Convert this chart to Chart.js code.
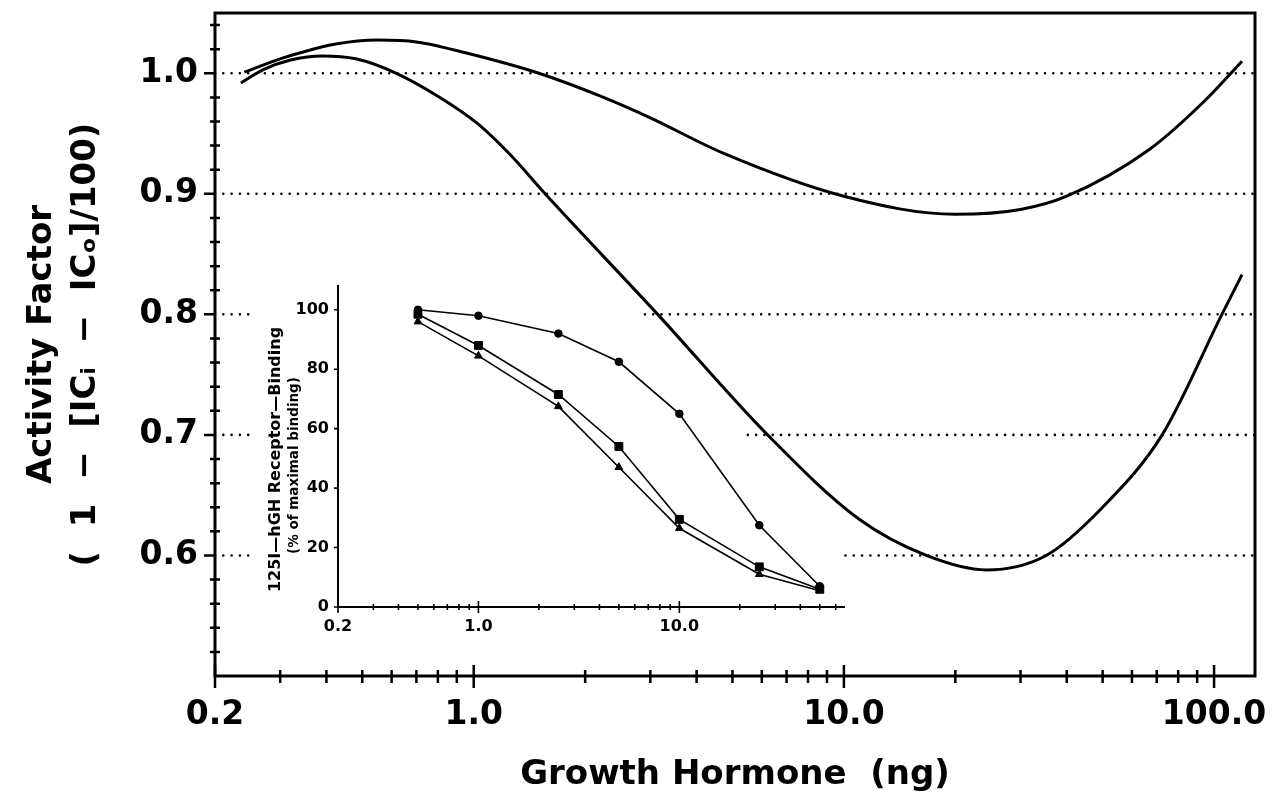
<!DOCTYPE html>
<html>
<head>
<meta charset="utf-8">
<title>Activity factor vs growth hormone</title>
<script src="https://cdn.jsdelivr.net/npm/chart.js@4.4.1/dist/chart.umd.min.js"></script>
<style>
  body { margin: 0; background: #fff; }
  #wrap { position: relative; width: 1279px; height: 804px; background: #fff; }
  #main { position: absolute; left: 0; top: 0; }
  #inset { position: absolute; left: 250px; top: 270px; }
</style>
</head>
<body>
<div id="wrap">
  <canvas id="main" width="1279" height="804"></canvas>
  <canvas id="inset" width="620" height="380"></canvas>
</div>
<script>
// main plot: activity factor curves
const upperDose = [0.24, 0.3, 0.34, 0.42, 0.55, 0.7, 0.95, 1.5, 2.2, 3, 4.7, 10, 20, 30, 40, 67, 95, 119];
const upperFactor = [1.001, 1.012, 1.017, 1.024, 1.0275, 1.026, 1.017, 1.0, 0.981, 0.963, 0.934, 0.898, 0.883, 0.887, 0.898, 0.937, 0.978, 1.010];
const lowerDose = [0.235, 0.27, 0.32, 0.39, 0.48, 0.618, 0.8, 1.017, 1.25, 1.57, 3.14, 6.22, 11, 16.7, 24.2, 35.2, 50, 72.4, 105, 119];
const lowerFactor = [0.992, 1.003, 1.011, 1.0144, 1.012, 1.0, 0.981, 0.959, 0.933, 0.899, 0.8, 0.70, 0.630, 0.600, 0.588, 0.600, 0.640, 0.70, 0.80, 0.833];

// dotted reference lines (some are broken where the inset sits)
const gridLevels = [1.0, 0.9, 0.8, 0.7, 0.6];
const gridStubEnd = [null, null, 0.25, 0.25, 0.25];
const gridResume = [0.2, 0.2, 2.9, 5.5, 10.1];

const xTicks = [0.2, 0.3, 0.4, 0.5, 0.6, 0.7, 0.8, 0.9, 1, 2, 3, 4, 5, 6, 7, 8, 9, 10, 20, 30, 40, 50, 60, 70, 80, 90, 100];
const xMajor = [0.2, 1, 10, 100];
const xMajorLabels = ['0.2', '1.0', '10.0', '100.0'];
const yTicks = [0.52, 0.54, 0.56, 0.58, 0.6, 0.62, 0.64, 0.66, 0.68, 0.7, 0.72, 0.74, 0.76, 0.78, 0.8, 0.82, 0.84, 0.86, 0.88, 0.9, 0.92, 0.94, 0.96, 0.98, 1.0, 1.02, 1.04];
const yMajor = [0.6, 0.7, 0.8, 0.9, 1.0];

// inset: receptor binding
const insetDose = [0.5, 1, 2.5, 5, 10, 25, 50];
const circleBinding = [100, 98, 92, 82.5, 65, 27.5, 7];
const squareBinding = [98.5, 88, 71.5, 54, 29.5, 13.5, 6];
const triangleBinding = [96, 84.5, 67.5, 47, 26.5, 11, 5.5];
const insetXTicks = [0.2, 0.3, 0.4, 0.5, 0.6, 0.7, 0.8, 0.9, 1, 2, 3, 4, 5, 6, 7, 8, 9, 10, 20, 30, 40, 50, 60];
const insetXMajor = [0.2, 1, 10];
const insetXLabels = ['0.2', '1.0', '10.0'];
const insetYTicks = [0, 20, 40, 60, 80, 100];
const insetTitleLines = ['125I\u2014hGH Receptor\u2014Binding', '(% of maximal binding)'];

Chart.defaults.font.family = "'DejaVu Sans'";
Chart.defaults.color = '#000';

const pts = (xs, ys) => xs.map((x, i) => ({x: x, y: ys[i]}));

// axis lines and ticks that cross the axis
const axisMarks = {
  id: 'axisMarks',
  afterDatasetsDraw(chart, args, o) {
    const {ctx, chartArea: a, scales: {x, y}} = chart;
    ctx.save();
    ctx.strokeStyle = '#000';
    ctx.lineWidth = o.axisWidth;
    ctx.lineCap = 'square';
    ctx.beginPath();
    if (o.box) {
      ctx.moveTo(a.left, a.top); ctx.lineTo(a.right, a.top); ctx.lineTo(a.right, a.bottom);
    }
    ctx.moveTo(a.left, a.top); ctx.lineTo(a.left, a.bottom); ctx.lineTo(a.right, a.bottom);
    ctx.stroke();
    ctx.lineCap = 'butt';
    ctx.lineWidth = o.tickWidth;
    ctx.beginPath();
    for (const v of o.xValues) {
      const px = x.getPixelForValue(v);
      const len = o.xMajor.includes(v) ? o.xMajorLen : o.xMinorLen;
      ctx.moveTo(px, a.bottom - len[0]);
      ctx.lineTo(px, a.bottom + len[1]);
    }
    for (const v of o.yValues) {
      const py = y.getPixelForValue(v);
      const len = o.yMajor.includes(v) ? o.yMajorLen : o.yMinorLen;
      ctx.moveTo(a.left - len[0], py);
      ctx.lineTo(a.left + len[1], py);
    }
    ctx.stroke();
    ctx.restore();
  }
};

// rotated two-font title for the inset y axis
const insetTitle = {
  id: 'insetTitle',
  afterDraw(chart, args, o) {
    if (!o.lines) return;
    const {ctx, chartArea: a} = chart;
    const cy = (a.top + a.bottom) / 2;
    ctx.save();
    ctx.fillStyle = '#000';
    ctx.textAlign = 'center';
    ctx.textBaseline = 'middle';
    o.lines.forEach((line, i) => {
      ctx.save();
      ctx.translate(a.left - o.offsets[i], cy + o.shift[i]);
      ctx.rotate(-Math.PI / 2);
      ctx.font = 'bold ' + o.sizes[i] + "px 'DejaVu Sans'";
      ctx.fillText(line, 0, 0);
      ctx.restore();
    });
    ctx.restore();
  }
};

const gridSets = gridLevels.map((lv, i) => {
  const data = [];
  if (gridStubEnd[i] !== null) {
    data.push({x: 0.2, y: lv}, {x: gridStubEnd[i], y: lv}, {x: (gridStubEnd[i] + gridResume[i]) / 2, y: null});
  }
  data.push({x: gridResume[i], y: lv}, {x: 129, y: lv});
  return {
    data: data,
    borderColor: '#000',
    borderWidth: 2.6,
    borderDash: [0, 8.3],
    borderCapStyle: 'round',
    pointRadius: 0,
    spanGaps: false,
    order: 5
  };
});

const curve = (xs, ys) => ({
  data: pts(xs, ys),
  borderColor: '#000',
  borderWidth: 3,
  pointRadius: 0,
  cubicInterpolationMode: 'monotone',
  borderJoinStyle: 'round',
  order: 1
});

// keep the plot box where the original has it
const fixX = h => s => { s.height = h; s.paddingLeft = 0; s.paddingRight = 0; };
const fixY = w => s => { s.width = w; s.paddingTop = 0; s.paddingBottom = 0; };

new Chart(document.getElementById('main'), {
  type: 'line',
  data: {
    datasets: [...gridSets, curve(upperDose, upperFactor), curve(lowerDose, lowerFactor)]
  },
  options: {
    responsive: false,
    animation: false,
    layout: {padding: {left: 0, top: 13, right: 24, bottom: 0}},
    plugins: {
      legend: {display: false},
      tooltip: {enabled: false},
      axisMarks: {
        box: true, axisWidth: 3, tickWidth: 2.5,
        xValues: xTicks, xMajor: xMajor, xMajorLen: [11, 12], xMinorLen: [6, 7],
        yValues: yTicks, yMajor: yMajor, yMajorLen: [11, 1], yMinorLen: [5, 5]
      }
    },
    scales: {
      x: {
        type: 'logarithmic',
        min: 0.2,
        max: 129,
        afterBuildTicks: s => { s.ticks = xMajor.map(v => ({value: v})); },
        afterFit: fixX(128),
        grid: {display: false, drawTicks: false},
        border: {display: false},
        ticks: {
          autoSkip: false, maxRotation: 0, padding: 20,
          font: {size: 33, weight: 'bold'},
          callback: v => xMajorLabels[xMajor.indexOf(v)]
        },
        title: {
          display: true,
          text: 'Growth Hormone  (ng)',
          font: {size: 34, weight: 'bold'},
          padding: {top: 0, bottom: 8}
        }
      },
      y: {
        min: 0.5,
        max: 1.05,
        afterBuildTicks: s => { s.ticks = yMajor.map(v => ({value: v})); },
        afterFit: fixY(215),
        grid: {display: false, drawTicks: false},
        border: {display: false},
        ticks: {
          autoSkip: false, padding: 17,
          font: {size: 33, weight: 'bold'},
          callback: v => v.toFixed(1)
        },
        title: {
          display: true,
          text: ['Activity Factor', '(  1  \u2212  [IC\u1d62  \u2212  IC\u2092]/100)'],
          font: {size: 34, weight: 'bold', lineHeight: 1.3},
          padding: {top: 20, bottom: 0}
        }
      }
    }
  },
  plugins: [axisMarks]
});

const series = (ys, style, r) => ({
  data: pts(insetDose, ys),
  borderColor: '#000',
  backgroundColor: '#000',
  borderWidth: 1.6,
  pointStyle: style,
  pointRadius: r,
  pointBorderWidth: 1,
  tension: 0
});

new Chart(document.getElementById('inset'), {
  type: 'line',
  data: {
    datasets: [
      series(circleBinding, 'circle', 3.8),
      series(squareBinding, 'rect', 5.6),
      series(triangleBinding, 'triangle', 4.5)
    ]
  },
  options: {
    responsive: false,
    animation: false,
    layout: {padding: {left: 0, top: 16, right: 26, bottom: 0}},
    plugins: {
      legend: {display: false},
      tooltip: {enabled: false},
      axisMarks: {
        box: false, axisWidth: 2, tickWidth: 1.6,
        xValues: insetXTicks, xMajor: insetXMajor, xMajorLen: [6, 6], xMinorLen: [3, 3],
        yValues: insetYTicks, yMajor: insetYTicks, yMajorLen: [4, 0], yMinorLen: [0, 0]
      },
      insetTitle: {
        lines: insetTitleLines,
        sizes: [16, 13.5],
        offsets: [62, 44],
        shift: [13, 19]
      }
    },
    scales: {
      x: {
        type: 'logarithmic',
        min: 0.2,
        max: 66,
        afterBuildTicks: s => { s.ticks = insetXMajor.map(v => ({value: v})); },
        afterFit: fixX(43),
        grid: {display: false, drawTicks: false},
        border: {display: false},
        ticks: {
          autoSkip: false, maxRotation: 0, padding: 10,
          font: {size: 16, weight: 'bold'},
          callback: v => insetXLabels[insetXMajor.indexOf(v)]
        }
      },
      y: {
        min: 0,
        max: 108,
        afterBuildTicks: s => { s.ticks = insetYTicks.map(v => ({value: v})); },
        afterFit: fixY(88),
        grid: {display: false, drawTicks: false},
        border: {display: false},
        ticks: {
          autoSkip: false, padding: 9,
          font: {size: 16, weight: 'bold'}
        }
      }
    }
  },
  plugins: [axisMarks, insetTitle]
});
</script>
</body>
</html>
